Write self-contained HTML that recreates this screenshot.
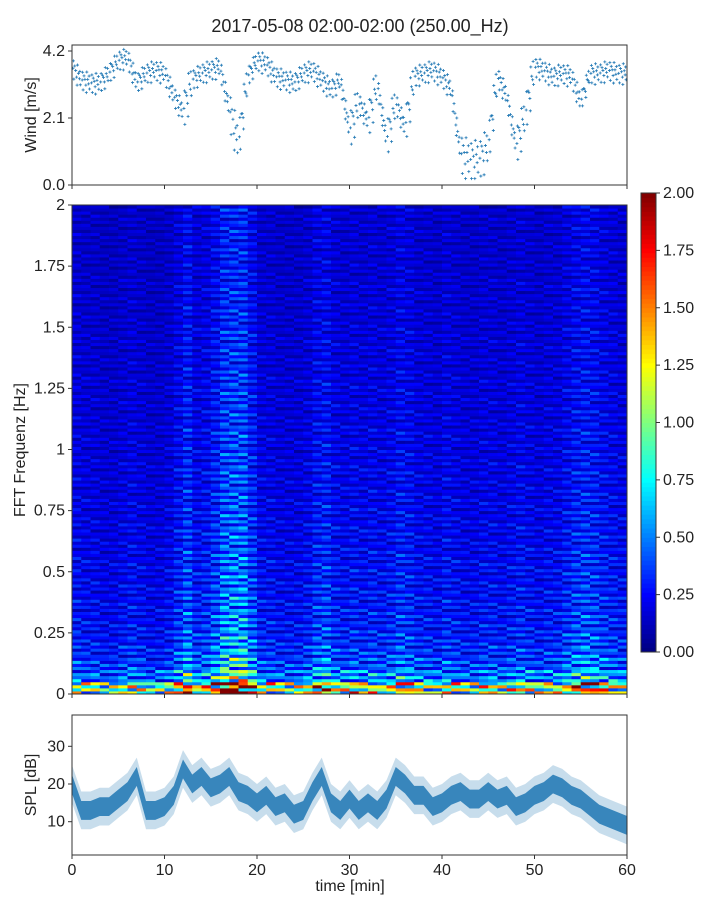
<!DOCTYPE html>
<html><head><meta charset="utf-8"><style>
body{margin:0;background:#fff;font-family:"Liberation Sans",sans-serif}
svg text{font-family:"Liberation Sans",sans-serif;fill:#222}
</style></head><body>
<svg id="c" width="720" height="900">
<text x="360" y="32" font-size="18" text-anchor="middle">2017-05-08 02:00-02:00 (250.00_Hz)</text>
</svg>
<script>
// ---- data ----
const windMinutes=[0,1,2,3,4,5,6,7,8,9,10,11,12,13,14,15,16,17,18,19,20,21,22,23,24,25,26,27,28,29,30,31,32,33,34,35,36,37,38,39,40,41,42,43,44,45,46,47,48,49,50,51,52,53,54,55,56,57,58,59];
const windValues=[3.7,3.3,3.2,3.2,3.5,3.9,4.0,3.2,3.5,3.6,3.5,2.8,2.3,3.3,3.5,3.6,3.7,2.4,1.3,3.4,3.9,3.8,3.4,3.3,3.2,3.5,3.6,3.3,3.0,3.3,1.7,2.6,2.0,3.2,1.4,2.6,1.8,3.4,3.5,3.6,3.4,3.0,1.0,0.8,0.8,1.2,3.4,2.8,1.2,2.2,3.7,3.6,3.4,3.5,3.4,2.6,3.5,3.5,3.6,3.5];
const windTicks=[0.0,2.1,4.2];
const splValues=[20,13,13,14,14,16,18,22,13,13,14,17,24,20,22,19,20,22,18,17,15,17,14,15,12,13,18,22,15,13,16,13,15,13,16,22,20,17,17,14,15,17,18,16,16,18,16,17,14,15,17,18,20,19,17,16,14,12,11,10,9];
const splTicks=[10,20,30];
const timeTicks=[0,10,20,30,40,50,60];
const freqTicks=[0,0.25,0.5,0.75,1,1.25,1.5,1.75,2];
const specColLevel=[1.1,1.0,1.0,0.9,0.9,1.0,1.1,1.0,0.9,0.9,1.0,1.3,1.7,1.2,1.3,1.6,2.1,2.2,2.2,1.6,1.1,1.1,1.0,1.0,1.0,1.1,1.4,1.5,1.2,1.1,1.2,1.1,1.2,1.1,1.2,1.4,1.3,1.1,1.1,1.0,1.2,1.1,1.0,1.0,1.1,1.1,1.0,1.1,1.2,1.1,1.0,1.1,1.1,1.3,1.5,1.6,1.5,1.3,1.2,1.1];
const specFreqLevel=[1.05,0.5,0.38,0.33,0.3,0.28,0.27,0.26,0.25,0.24,0.24,0.23,0.22,0.22,0.21,0.21,0.2,0.2,0.2,0.19,0.19,0.19,0.18,0.18,0.18,0.18,0.17,0.17,0.17,0.17,0.16,0.16,0.16,0.16,0.15,0.15,0.15,0.15,0.15,0.15];
const specRowTex=[1.3,0.6,1.1,0.4,1.4,0.8,1.0,0.3,1.2,0.7,1.5,0.5,0.9,1.1,0.4,1.3,0.7,1.2,0.5,1.0];
const colorTicks=[0,0.25,0.5,0.75,1,1.25,1.5,1.75,2];
// ---- helpers ----
const NS="http://www.w3.org/2000/svg",svg=document.getElementById('c');
function mk(t,a,p){const e=document.createElementNS(NS,t);for(const k in a)e.setAttribute(k,a[k]);(p||svg).appendChild(e);return e;}
const X0=72,X1=627;
const xT=t=>X0+(X1-X0)*t/60;
const yW=v=>185-v*(134/4.2);
const yF=f=>694-f*(489/2);
const yS=v=>859.4-v*3.77;
function jet(v){v=Math.max(0,Math.min(1,v));const r=Math.max(0,Math.min(1,1.5-Math.abs(4*v-3))),g=Math.max(0,Math.min(1,1.5-Math.abs(4*v-2))),b=Math.max(0,Math.min(1,1.5-Math.abs(4*v-1)));return `rgb(${r*255|0},${g*255|0},${b*255|0})`;}
// ---- wind panel ----
const wg=mk('g',{});
const offs=[[0.1,0],[0.3,0.15],[0.5,-0.12],[0.7,0.08],[0.9,-0.2],[0.2,-0.3],[0.6,0.3],[0.8,-0.05],[0.4,0.05],[0.15,0.25],[0.55,-0.35],[0.85,0.2]];
windMinutes.forEach((m,i)=>{const v0=windValues[i],v1=windValues[Math.min(i+1,windValues.length-1)];offs.forEach(o=>{const v=Math.min(4.25,Math.max(0.2,v0+(v1-v0)*o[0]+o[1]*(v0<2.5?2:1)));const x=xT(m+o[0]),y=yW(v);mk('path',{d:`M${x-1.5},${y}h3M${x},${y-1.5}v3`,stroke:'#1f77b4','stroke-width':0.8},wg);});});
const wf=mk('rect',{x:X0,y:45,width:X1-X0,height:140,fill:'none',stroke:'#333'});
windTicks.forEach(v=>{mk('line',{x1:X0-4,x2:X0,y1:yW(v),y2:yW(v),stroke:'#333'});const t=mk('text',{x:X0-7,y:yW(v)+5,'font-size':16,'text-anchor':'end'});t.textContent=v.toFixed(1);});
timeTicks.forEach(v=>mk('line',{x1:xT(v),x2:xT(v),y1:185,y2:189,stroke:'#333'}));
let t=mk('text',{x:36,y:115,'font-size':16,'text-anchor':'middle',transform:'rotate(-90 36 115)'});t.textContent='Wind [m/s]';
// ---- spectrogram ----
const sg=mk('g',{});
const nF=specFreqLevel.length,df=2/nF,sub=4;
specColLevel.forEach((c,ti)=>{specFreqLevel.forEach((f,fi)=>{for(let s=0;s<sub;s++){const k=(fi*sub+s+ti*7)%specRowTex.length;const v=c*f*specRowTex[k];const f0=fi*df+s*df/sub;const y1=yF(f0),y2=yF(f0+df/sub);mk('rect',{x:xT(ti),y:y2,width:xT(ti+1)-xT(ti)+0.5,height:y1-y2+0.5,fill:jet(v/2)},sg);}});});
const sf=mk('rect',{x:X0,y:205,width:X1-X0,height:489,fill:'none',stroke:'#333'});
freqTicks.forEach(v=>{mk('line',{x1:X0-4,x2:X0,y1:yF(v),y2:yF(v),stroke:'#333'});const t=mk('text',{x:X0-7,y:yF(v)+5,'font-size':16,'text-anchor':'end'});t.textContent=String(v);});
timeTicks.forEach(v=>mk('line',{x1:xT(v),x2:xT(v),y1:694,y2:698,stroke:'#333'}));
t=mk('text',{x:25,y:450,'font-size':16,'text-anchor':'middle',transform:'rotate(-90 25 450)'});t.textContent='FFT Frequenz [Hz]';
// ---- colorbar ----
const cb=mk('g',{});
const yC=v=>652-v*(459/2);
for(let i=0;i<100;i++){mk('rect',{x:641,y:yC((i+1)*0.02),width:15,height:459/100+0.5,fill:jet((i+0.5)/100)},cb);}
mk('rect',{x:641,y:193,width:15,height:459,fill:'none',stroke:'#333'},cb);
colorTicks.forEach(v=>{mk('line',{x1:656,x2:660,y1:yC(v),y2:yC(v),stroke:'#333'},cb);const t=mk('text',{x:663,y:yC(v)+5,'font-size':16},cb);t.textContent=v.toFixed(2);});
// ---- SPL ----
const spg=mk('g',{});
let up='',dn='',up2='',dn2='';
splValues.forEach((v,i)=>{up+=`${i?'L':'M'}${xT(i)},${yS(v+5)}`;up2+=`${i?'L':'M'}${xT(i)},${yS(v+2.5)}`;});
for(let i=splValues.length-1;i>=0;i--){dn+=`L${xT(i)},${yS(splValues[i]-5)}`;dn2+=`L${xT(i)},${yS(splValues[i]-2.5)}`;}
mk('path',{d:up+dn+'Z',fill:'#1f77b4','fill-opacity':0.25},spg);
mk('path',{d:up2+dn2+'Z',fill:'#1f77b4','fill-opacity':0.85},spg);
const pf=mk('rect',{x:X0,y:715,width:X1-X0,height:140,fill:'none',stroke:'#333'});
splTicks.forEach(v=>{mk('line',{x1:X0-4,x2:X0,y1:yS(v),y2:yS(v),stroke:'#333'});const t=mk('text',{x:X0-7,y:yS(v)+5,'font-size':16,'text-anchor':'end'});t.textContent=String(v);});
timeTicks.forEach(v=>{mk('line',{x1:xT(v),x2:xT(v),y1:855,y2:859,stroke:'#333'});const t=mk('text',{x:xT(v),y:875,'font-size':16,'text-anchor':'middle'});t.textContent=String(v);});
t=mk('text',{x:36,y:785,'font-size':16,'text-anchor':'middle',transform:'rotate(-90 36 785)'});t.textContent='SPL [dB]';
t=mk('text',{x:350,y:891,'font-size':16,'text-anchor':'middle'});t.textContent='time [min]';
</script>
</body></html>
